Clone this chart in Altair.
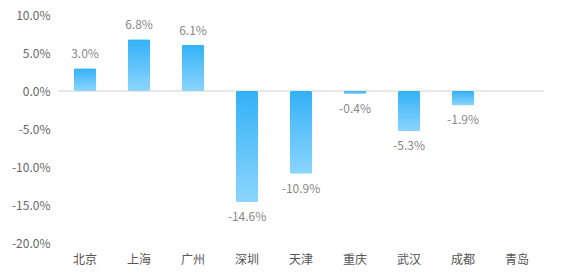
import altair as alt
import pandas as pd

cities = ["北京", "上海", "广州", "深圳", "天津", "重庆", "武汉", "成都", "青岛"]
values = [3.0, 6.8, 6.1, -14.6, -10.9, -0.4, -5.3, -1.9, None]
y_ticks = [-20, -15, -10, -5, 0, 5, 10]

df = pd.DataFrame({"city": cities, "value": values})
df["label"] = df["value"].map(lambda v: "" if pd.isna(v) else f"{v:.1f}%")

FONT = "Noto Sans CJK SC"

y_scale = alt.Scale(domain=[-20, 10], nice=False)
y_axis = alt.Axis(values=y_ticks, labelOverlap=False,
                  labelExpr="(datum.value < 0 ? '-' : '') + format(abs(datum.value), '.1f') + '%'",
                  domain=False, ticks=False, grid=False, labelPadding=8,
                  labelFont=FONT, labelFontSize=12, labelColor="#666")

x = alt.X("city:N", sort=cities, title=None,
          scale=alt.Scale(paddingInner=0.58, paddingOuter=0.29),
          axis=alt.Axis(labelAngle=0, domain=False, ticks=False, labelPadding=11,
                        labelFont=FONT, labelFontSize=12, labelColor="#555"))
y = alt.Y("value:Q", title=None, scale=y_scale, axis=y_axis)

base = alt.Chart(df)

zero = alt.Chart(pd.DataFrame({"value": [0]})).mark_rule(color="#d0d0d0", strokeWidth=1).encode(y=y)

bars = base.mark_bar(
    cornerRadius=2,
    color=alt.Gradient(gradient="linear", x1=0, x2=0, y1=0, y2=1,
                       stops=[alt.GradientStop(color="#33b1f6", offset=0),
                              alt.GradientStop(color="#8cd5fd", offset=1)]),
).encode(x=x, y=y)

pos_labels = base.transform_filter("datum.value >= 0").mark_text(
    baseline="bottom", dy=-7, font=FONT, fontSize=12, color="#888"
).encode(x=x, y=y, text="label:N")

neg_labels = base.transform_filter("datum.value < 0").mark_text(
    baseline="top", dy=10, font=FONT, fontSize=12, color="#888"
).encode(x=x, y=y, text="label:N")

chart = alt.layer(zero, bars, pos_labels, neg_labels).properties(
    width=486, height=228,
    padding={"left": 58, "top": 15, "right": 17, "bottom": 35},
    autosize=alt.AutoSizeParams(type="none"),
).configure(background="white").configure_view(strokeWidth=0, stroke="transparent")

chart.save("out.html", embed_options={"renderer": "svg", "actions": False})
